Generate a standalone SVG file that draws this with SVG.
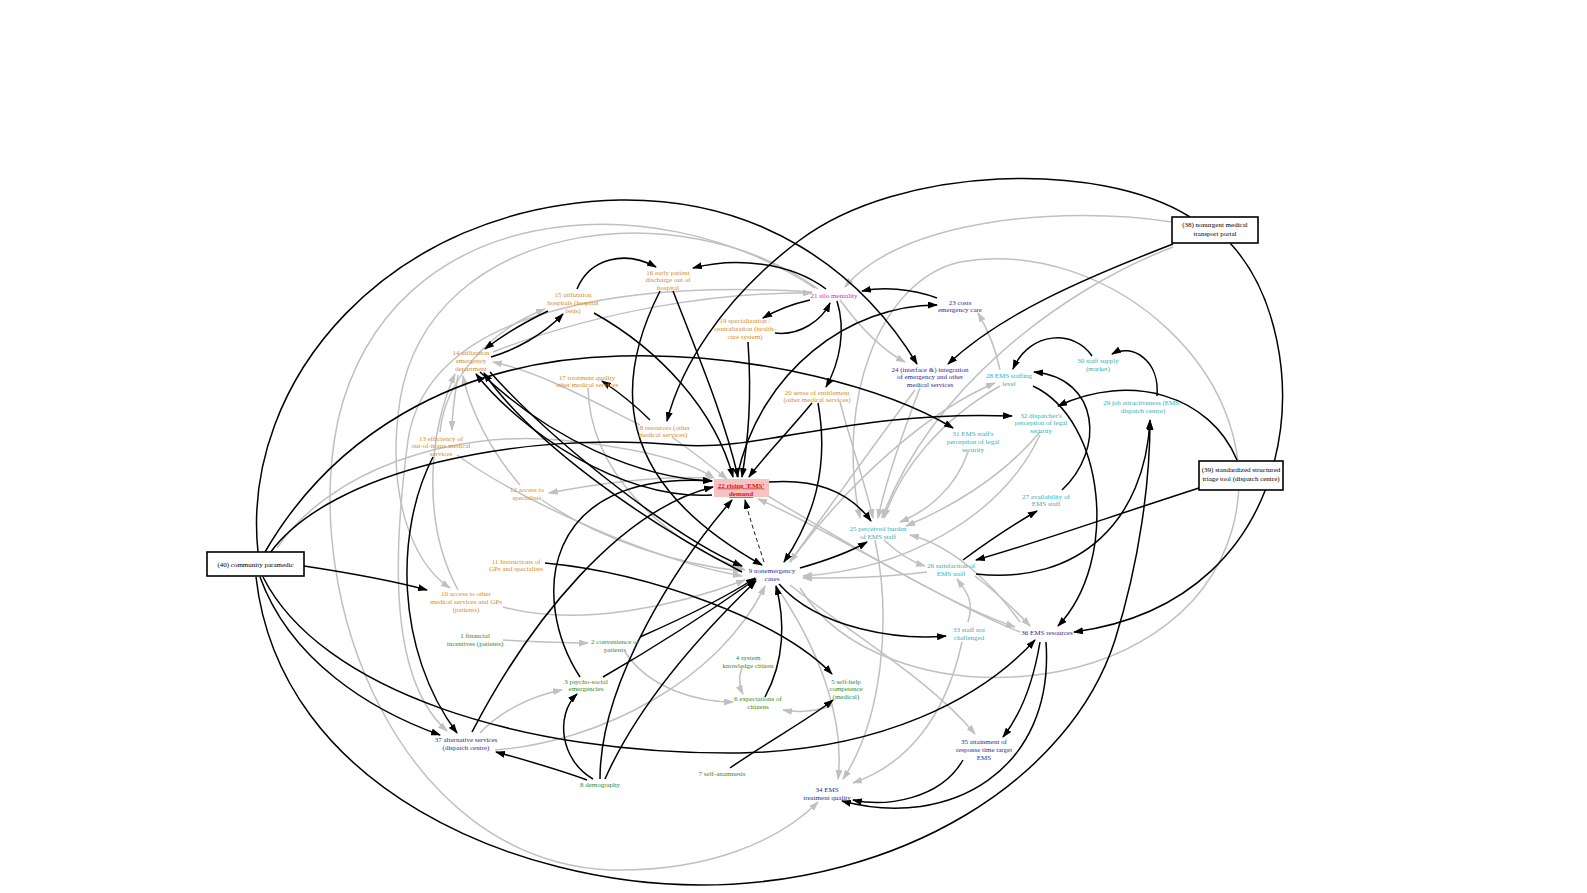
<svg xmlns="http://www.w3.org/2000/svg" width="1587" height="893" viewBox="0 0 1587 893">
<defs>
<marker id="ab" markerUnits="userSpaceOnUse" markerWidth="10" markerHeight="7" refX="9" refY="3.5" orient="auto"><path d="M0,0 L10,3.5 L0,7 z" fill="#000"/></marker>
<marker id="ag" markerUnits="userSpaceOnUse" markerWidth="10" markerHeight="7" refX="9" refY="3.5" orient="auto"><path d="M0,0 L10,3.5 L0,7 z" fill="#c0c0c0"/></marker>
</defs>
<style>
.b{fill:none;stroke:#000;stroke-width:1.5;marker-end:url(#ab)}
.g{fill:none;stroke:#c0c0c0;stroke-width:1.5;marker-end:url(#ag)}
.d{fill:none;stroke:#000;stroke-width:0.9;stroke-dasharray:4,3;marker-end:url(#ab)}
text{font-family:"Liberation Serif","Times New Roman",serif;font-size:7px;text-anchor:middle}
.or{fill:#d98a2a}.gr{fill:#2f8a2f}.bl{fill:#2a2a9c}.cy{fill:#2fb0b8}.mg{fill:#d020d0}.bk{fill:#000}
.box{fill:#fff;stroke:#000;stroke-width:1.6}
</style>
<rect width="1587" height="893" fill="#fff"/>
<g id="connectors">
<path class="g" d="M1172,222 C1060,205 900,220 845,287"/>
<path class="g" d="M1173,247 C1060,290 930,390 882,518"/>
<path class="g" d="M815,288 C650,180 390,200 338,420 C300,600 400,860 610,870 C710,872 780,840 818,802"/>
<path class="g" d="M818,289 C680,190 430,220 400,400 C385,500 415,565 450,588"/>
<path class="g" d="M812,292 C650,282 430,300 408,440 C392,560 390,680 447,731"/>
<path class="g" d="M493,352 C600,310 720,292 812,293"/>
<path class="g" d="M440,432 C445,380 490,330 545,309"/>
<path class="g" d="M458,375 C455,395 452,410 452,430"/>
<path class="g" d="M458,590 C420,520 430,430 455,374"/>
<path class="g" d="M520,485 C490,450 470,410 463,376"/>
<path class="g" d="M640,425 C590,400 540,372 493,362"/>
<path class="g" d="M588,388 C590,470 660,540 745,570"/>
<path class="g" d="M712,478 C650,475 590,485 549,493"/>
<path class="g" d="M277,548 C330,470 450,430 560,440 C640,448 690,462 714,478"/>
<path class="g" d="M503,640 C540,642 565,643 588,643"/>
<path class="g" d="M625,652 C650,690 700,702 733,702"/>
<path class="g" d="M742,668 C738,678 740,688 743,694"/>
<path class="g" d="M833,705 C815,712 800,713 783,710"/>
<path class="g" d="M480,733 C500,712 530,696 562,690"/>
<path class="g" d="M495,750 C600,742 720,680 765,586"/>
<path class="g" d="M875,540 C892,620 882,720 843,779"/>
<path class="g" d="M962,642 C945,720 905,765 853,783"/>
<path class="g" d="M790,585 C860,640 930,680 975,734"/>
<path class="g" d="M968,622 C975,600 965,590 957,579"/>
<path class="g" d="M884,540 C900,555 912,562 925,566"/>
<path class="g" d="M1020,622 C990,580 950,545 910,535"/>
<path class="g" d="M975,576 C1000,595 1015,610 1030,626"/>
<path class="g" d="M927,572 C880,578 840,578 803,578"/>
<path class="g" d="M768,496 C850,545 950,605 1015,627"/>
<path class="g" d="M1020,632 C940,600 830,530 758,499"/>
<path class="g" d="M920,388 C900,440 886,480 878,518"/>
<path class="g" d="M1000,386 C940,420 900,470 884,518"/>
<path class="g" d="M968,452 C955,490 925,512 900,522"/>
<path class="g" d="M1040,432 C1000,480 945,510 906,526"/>
<path class="g" d="M840,402 C850,440 864,480 873,518"/>
<path class="g" d="M790,562 C850,480 930,410 995,383"/>
<path class="g" d="M1000,370 C995,345 985,325 978,313"/>
<path class="g" d="M840,300 C862,330 882,350 905,362"/>
<path class="g" d="M800,588 C880,720 1180,710 1232,530 C1275,380 1110,235 960,262 C880,280 835,400 860,518"/>
<path class="g" d="M1040,435 C1000,520 900,570 803,576"/>
<path class="g" d="M915,390 C870,450 820,520 790,562"/>
<path class="g" d="M542,500 C600,540 680,565 742,571"/>
<path class="g" d="M503,607 C580,628 680,605 745,580"/>
<path class="g" d="M457,455 C520,500 650,560 742,576"/>
<path class="g" d="M672,437 C690,450 710,465 727,479"/>
<path class="g" d="M776,586 C820,650 845,720 838,779"/>

<path class="b" d="M577,289 C590,258 625,250 656,267"/>
<path class="b" d="M826,289 C790,262 735,257 693,268"/>
<path class="b" d="M548,311 C525,322 503,335 485,349"/>
<path class="b" d="M491,357 C515,350 543,335 563,314"/>
<path class="b" d="M594,313 C660,350 715,410 733,477"/>
<path class="b" d="M673,291 C700,360 725,420 738,477"/>
<path class="b" d="M660,291 C615,380 610,480 762,565"/>
<path class="b" d="M1190,217 C1100,160 900,165 800,240 C720,300 680,370 667,421"/>
<path class="b" d="M1173,244 C1080,280 1000,315 948,364"/>
<path class="b" d="M258,552 C240,380 390,205 620,200 C760,198 860,270 917,364"/>
<path class="b" d="M810,300 C792,304 777,310 763,318"/>
<path class="b" d="M775,333 C800,336 822,320 830,303"/>
<path class="b" d="M837,301 C846,330 840,362 826,387"/>
<path class="b" d="M748,342 C752,400 748,440 742,477"/>
<path class="b" d="M737,477 C760,370 850,305 937,305"/>
<path class="b" d="M937,298 C910,288 882,287 862,291"/>
<path class="b" d="M265,552 C330,440 450,360 620,356 C760,352 890,390 953,428"/>
<path class="b" d="M270,553 C330,470 520,430 680,445 C760,452 850,410 1012,416"/>
<path class="b" d="M812,403 C790,430 765,455 749,477"/>
<path class="b" d="M818,403 C830,470 812,520 784,562"/>
<path class="b" d="M769,482 C820,478 852,495 871,521"/>
<path class="b" d="M800,568 C828,560 850,552 867,542"/>
<path class="b" d="M779,584 C820,630 900,640 946,636"/>
<path class="b" d="M1040,642 C1032,690 1018,718 1003,737"/>
<path class="b" d="M1046,642 C1055,770 950,830 842,801"/>
<path class="b" d="M963,760 C940,800 885,807 853,800"/>
<path class="b" d="M1092,356 C1075,330 1030,330 1013,369"/>
<path class="b" d="M1157,396 C1160,360 1132,343 1112,354"/>
<path class="b" d="M1062,490 C1105,450 1100,378 1034,372"/>
<path class="b" d="M1033,386 C1105,420 1120,560 1058,626"/>
<path class="b" d="M1237,460 C1210,395 1130,372 1058,406"/>
<path class="b" d="M1199,488 C1100,520 1030,545 976,560"/>
<path class="b" d="M963,560 C990,540 1018,522 1037,511"/>
<path class="b" d="M976,574 C1080,585 1145,520 1150,420"/>
<path class="b" d="M1230,243 C1320,340 1310,600 1074,632"/>
<path class="b" d="M256,577 C280,790 520,885 700,885 C900,885 1070,780 1115,640 C1140,560 1150,480 1150,421"/>
<path class="b" d="M263,577 C320,690 520,755 740,753 C880,750 980,700 1035,640"/>
<path class="b" d="M260,577 C290,660 370,710 440,735"/>
<path class="b" d="M304,566 C350,573 390,580 427,590"/>
<path class="b" d="M433,457 C395,530 395,650 457,733"/>
<path class="b" d="M587,780 C560,770 525,760 496,752"/>
<path class="b" d="M593,779 C560,760 555,715 577,694"/>
<path class="b" d="M600,779 C600,680 680,560 732,500"/>
<path class="b" d="M605,779 C640,700 705,630 756,581"/>
<path class="b" d="M603,677 C650,650 712,610 756,579"/>
<path class="b" d="M640,637 C690,615 728,596 755,578"/>
<path class="b" d="M580,677 C530,600 540,470 712,481"/>
<path class="b" d="M545,563 C650,573 780,620 832,674"/>
<path class="b" d="M730,768 C770,740 808,720 833,700"/>
<path class="b" d="M765,697 C785,660 785,620 776,586"/>
<path class="b" d="M472,732 C530,620 620,510 713,487"/>
<path class="b" d="M480,372 C550,440 640,478 712,481"/>
<path class="b" d="M712,495 C620,500 520,430 476,374"/>
<path class="b" d="M742,572 C640,520 530,440 484,373"/>
<path class="b" d="M490,372 C560,450 680,540 742,566"/>
<path class="b" d="M650,420 C635,405 617,391 602,381"/>
<path class="d" d="M764,562 C757,540 750,520 745,500"/>
</g>
<g id="n1"><text class="gr" x="475" y="637.5">1 financial<tspan x="475" dy="8">incentives (patients)</tspan></text></g>
<g id="n2"><text class="gr" x="615" y="643.5">2 convenience of<tspan x="615" dy="8">patients</tspan></text></g>
<g id="n3"><text class="gr" x="586" y="683.5">3 psycho-social<tspan x="586" dy="7.5">emergencies</tspan></text></g>
<g id="n4"><text class="gr" x="748" y="659.5">4 system<tspan x="748" dy="8">knowledge citizen</tspan></text></g>
<g id="n5"><text class="gr" x="846" y="683.5">5 self-help<tspan x="846" dy="7.5">competence</tspan><tspan x="846" dy="7.5">(medical)</tspan></text></g>
<g id="n6"><text class="gr" x="758" y="700.5">6 expectations of<tspan x="758" dy="8">citizens</tspan></text></g>
<g id="n7"><text class="gr" x="722" y="775.5">7 self-anamnesis</text></g>
<g id="n8"><text class="gr" x="600" y="786.5">8 demography</text></g>
<g id="n9"><text class="bl" x="772" y="572.5">9 nonemergency<tspan x="772" dy="8">cases</tspan></text></g>
<g id="n10"><text class="or" x="466" y="595.5">10 access to other<tspan x="466" dy="8">medical services and GPs</tspan><tspan x="466" dy="8">(patients)</tspan></text></g>
<g id="n11"><text class="or" x="516" y="563.5">11 Instructions of<tspan x="516" dy="7.5">GPs and specialists</tspan></text></g>
<g id="n12"><text class="or" x="527" y="491.5">12 access to<tspan x="527" dy="8">specialists</tspan></text></g>
<g id="n13"><text class="or" x="441" y="440.5">13 efficiency of<tspan x="441" dy="7.5">out-of-hours medical</tspan><tspan x="441" dy="7.5">services</tspan></text></g>
<g id="n14"><text class="or" x="471" y="354.5">14 utilization<tspan x="471" dy="8">emergency</tspan><tspan x="471" dy="8">department</tspan></text></g>
<g id="n15"><text class="or" x="573" y="296.5">15 utilization<tspan x="573" dy="8">hospitals (hospital</tspan><tspan x="573" dy="8">beds)</tspan></text></g>
<g id="n16"><text class="or" x="668" y="274.5">16 early patient<tspan x="668" dy="7.5">discharge out of</tspan><tspan x="668" dy="7.5">hospital</tspan></text></g>
<g id="n17"><text class="or" x="587" y="379.5">17 treatment quality<tspan x="587" dy="7.5">other medical services</tspan></text></g>
<g id="n18"><text class="or" x="663" y="429.5">18 resources (other<tspan x="663" dy="7.5">medical services)</tspan></text></g>
<g id="n19"><text class="or" x="745" y="322.5">19 specialization /<tspan x="745" dy="8">centralization (health-</tspan><tspan x="745" dy="8">care system)</tspan></text></g>
<g id="n20"><text class="or" x="817" y="394.5">20 sense of entitlement<tspan x="817" dy="7.5">(other medical services)</tspan></text></g>
<g id="n21"><text class="mg" x="834" y="297.5">21 silo mentality</text></g>
<g id="n22"><rect x="714" y="479" width="55" height="18" fill="#f6c3c3"/><text x="741" y="487.5" fill="#e0101e" font-weight="bold" font-size="7.5" text-decoration="underline">22 rising 'EMS'<tspan x="741" dy="8.5">demand</tspan></text></g>
<g id="n23"><text class="bl" x="960" y="304.5">23 costs<tspan x="960" dy="7.5">emergency care</tspan></text></g>
<g id="n24"><text class="bl" x="930" y="371.5">24 (interface &amp;) integration<tspan x="930" dy="7.5">of emergency and other</tspan><tspan x="930" dy="7.5">medical services</tspan></text></g>
<g id="n25"><text class="cy" x="878" y="530.5">25 perceived burden<tspan x="878" dy="8">of EMS staff</tspan></text></g>
<g id="n26"><text class="cy" x="951" y="567.5">26 satisfaction of<tspan x="951" dy="8">EMS staff</tspan></text></g>
<g id="n27"><text class="cy" x="1046" y="498.5">27 availability of<tspan x="1046" dy="7.5">EMS staff</tspan></text></g>
<g id="n28"><text class="cy" x="1009" y="377.5">28 EMS staffing<tspan x="1009" dy="8">level</tspan></text></g>
<g id="n29"><text class="cy" x="1143" y="404.5">29 job attractiveness (EMS /<tspan x="1143" dy="8">dispatch centre)</tspan></text></g>
<g id="n30"><text class="cy" x="1098" y="362.5">30 staff supply<tspan x="1098" dy="8">(market)</tspan></text></g>
<g id="n31"><text class="cy" x="973" y="435.5">31 EMS staff's<tspan x="973" dy="8">perception of legal</tspan><tspan x="973" dy="8">security</tspan></text></g>
<g id="n32"><text class="cy" x="1041" y="417.5">32 dispatcher's<tspan x="1041" dy="7.5">perception of legal</tspan><tspan x="1041" dy="7.5">security</tspan></text></g>
<g id="n33"><text class="cy" x="969" y="631.5">33 staff not<tspan x="969" dy="8">challenged</tspan></text></g>
<g id="n34"><text class="bl" x="827" y="791.5">34 EMS<tspan x="827" dy="8">treatment quality</tspan></text></g>
<g id="n35"><text class="bl" x="984" y="743.5">35 attainment of<tspan x="984" dy="8">response time target</tspan><tspan x="984" dy="8">EMS</tspan></text></g>
<g id="n36"><text class="bl" x="1047" y="634.5">36 EMS resources</text></g>
<g id="n37"><text class="bl" x="466" y="741.5">37 alternative services<tspan x="466" dy="8.5">(dispatch centre)</tspan></text></g>
<g id="n38"><rect class="box" x="1172" y="217" width="86" height="26"/><text class="bk" x="1215" y="227">(38) nonurgent medical<tspan x="1215" dy="8.5">transport portal</tspan></text></g>
<g id="n39"><rect class="box" x="1199" y="461" width="84" height="29"/><text class="bk" x="1241" y="472">(39) standardized structured<tspan x="1241" dy="8.5">triage tool (dispatch centre)</tspan></text></g>
<g id="n40"><rect class="box" x="207" y="552" width="97" height="24"/><text class="bk" x="255.5" y="566.5">(40) community paramedic</text></g>
</svg>
